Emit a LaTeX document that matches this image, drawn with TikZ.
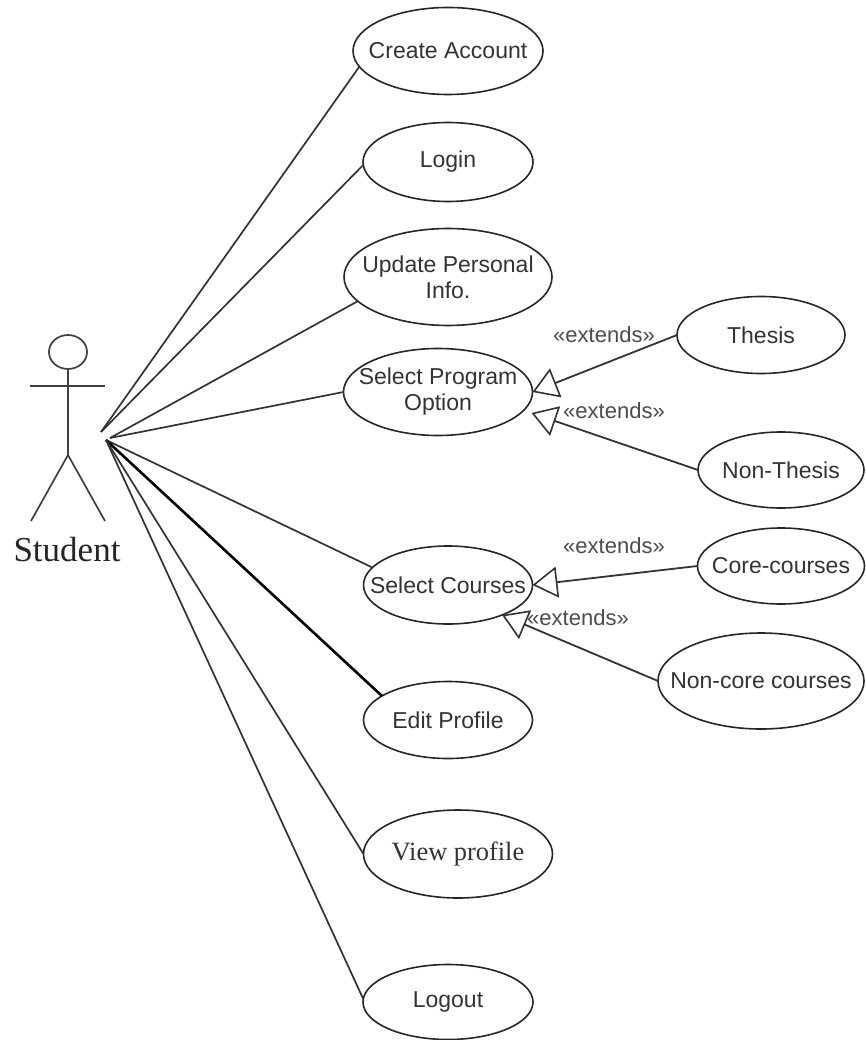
\documentclass[tikz,border=0pt]{standalone}
\usepackage{fontspec}
\setmainfont{Liberation Sans}
\newfontfamily\serifface{Liberation Serif}
\usetikzlibrary{shapes.geometric,arrows.meta}
\tikzset{
  ucase/.style={draw=black!85,line width=1.6pt,ellipse,inner xsep=-30pt,inner ysep=-15pt,outer sep=0pt,align=center,font=\fontsize{23}{26}\selectfont,text=black!80},
  assoc/.style={draw=black!80,line width=1.7pt},
  ext/.style={draw=black!80,line width=1.8pt,-{Triangle[open,length=25pt,width=31pt,line width=1.6pt]}},
  stereo/.style={font=\fontsize{22}{26}\selectfont,text=black!70,inner sep=0pt},
  actorline/.style={draw=black!75,line width=1.7pt}
}
\begin{document}
\begin{tikzpicture}[x=1pt,y=-1pt]
\useasboundingbox (0,0) rectangle (865,1040);
\node[ucase,minimum width=190pt,minimum height=87pt] (create) at (448,51) {Create Account};
\node[ucase,minimum width=170pt,minimum height=79pt] (login) at (448,162) {Login};
\node[ucase,minimum width=208pt,minimum height=97pt] (update) at (448,277) {Update Personal\\Info.};
\node[ucase,minimum width=189pt,minimum height=87pt] (program) at (438,392) {Select Program\\Option};
\node[ucase,minimum width=168pt,minimum height=77pt] (thesis) at (761,335) {Thesis};
\node[ucase,minimum width=166pt,minimum height=76pt] (nonthesis) at (781,470) {Non-Thesis};
\node[ucase,minimum width=169pt,minimum height=78pt] (courses) at (448,585) {Select Courses};
\node[ucase,minimum width=167pt,minimum height=76pt] (core) at (781,566) {Core-courses};
\node[ucase,minimum width=206pt,minimum height=96pt] (noncore) at (761,681) {Non-core courses};
\node[ucase,minimum width=169pt,minimum height=77pt] (edit) at (448,720) {Edit Profile};
\node[ucase,minimum width=189pt,minimum height=88pt,font=\serifface\fontsize{26.4}{30}\selectfont] (view) at (458,854) {View profile};
\node[ucase,minimum width=170pt,minimum height=75pt] (logout) at (448,1002) {Logout};
% actor
\node[draw=black!75,line width=1.7pt,ellipse,minimum width=38pt,minimum height=34pt,inner sep=0pt,outer sep=0pt] (head) at (68,352) {};
\coordinate (hip) at (68,455);
\coordinate (armL) at (30,386);
\coordinate (armR) at (105,386);
\coordinate (footL) at (31,521);
\coordinate (footR) at (105,521);
\draw[actorline] (head.south) -- (hip);
\draw[actorline] (armL) -- (armR);
\draw[actorline] (footL) -- (hip) -- (footR);
\node[font=\serifface\fontsize{35}{40}\selectfont,text=black!85,inner sep=0pt] (student) at (67,550) {Student};
\coordinate (hubA) at (101,432);
\coordinate (hubB) at (110,438);
\coordinate (hubC) at (106,440);
% associations
\draw[assoc] (hubA) -- (create.190);
\draw[assoc] (hubA) -- (login.182);
\draw[assoc] (hubB) -- (update.195);
\draw[assoc] (hubB) -- (program.180);
\draw[assoc] (hubC) -- (courses.167);
\draw[assoc,line width=2.6pt,draw=black] (hubC) -- (edit.160);
\draw[assoc] (hubC) -- (view.180);
\draw[assoc] (hubC) -- (logout.178);
% extends
\draw[ext] (thesis.west) -- (program.east);
\draw[ext] (nonthesis.west) -- ([shift={(-1,21)}]program.east);
\draw[ext] (core.west) -- (courses.east);
\draw[ext] (noncore.west) -- (courses.-29);
\node[stereo] (e1) at (604,335) {«extends»};
\node[stereo] (e2) at (614,411) {«extends»};
\node[stereo] (e3) at (614,546) {«extends»};
\node[stereo] (e4) at (578,618) {«extends»};
\end{tikzpicture}
\end{document}
